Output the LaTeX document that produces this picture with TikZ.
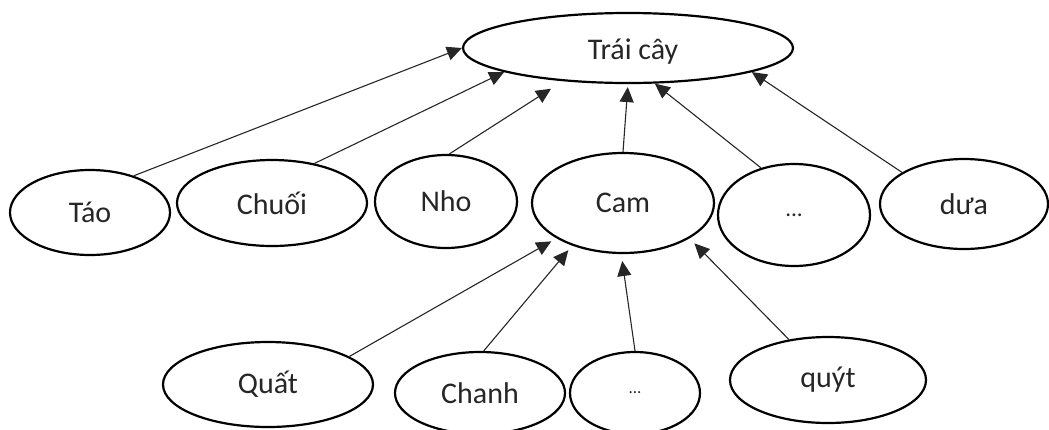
\documentclass[tikz,border=0pt]{standalone}
\usepackage{fontspec}
\setmainfont{Carlito}
\usetikzlibrary{arrows.meta,shapes.geometric}

\tikzset{
  fruit/.style={ellipse, draw=black, line width=2.2pt, inner sep=0pt,
    text=black!85, font=\fontsize{30}{32}\selectfont},
  tip/.tip={Triangle[length=15pt,width=14pt]},
  link/.style={draw=black!85, line width=1.1pt, -tip},
}

\begin{document}
\begin{tikzpicture}[x=1pt,y=-1pt]
  \useasboundingbox (0,0) rectangle (1049,429);

  % root category
  \node[fruit, minimum width=330pt, minimum height=70pt,
        text height=22pt, text depth=0pt] (trai) at (628,48) {\hspace*{10pt}Trái cây};

  % second level
  \node[fruit, minimum width=160pt, minimum height=85pt]  (tao)   at (90,212.5)  {Táo};
  \node[fruit, minimum width=190pt, minimum height=86pt]  (chuoi) at (272,203)   {Chuối};
  \node[fruit, minimum width=142pt, minimum height=93pt]  (nho)   at (446,201.5) {Nho};
  \node[fruit, minimum width=182pt, minimum height=100pt] (cam)   at (623,203)   {Cam};
  \node[fruit, minimum width=152pt, minimum height=102pt,
        font=\fontsize{23}{25}\selectfont]                (dotsa) at (794,215)   {...};
  \node[fruit, minimum width=168pt, minimum height=90pt]  (dua)   at (964,204)   {dưa};

  % third level (kinds of Cam)
  \node[fruit, minimum width=210pt, minimum height=85pt]  (quat)  at (268,384.5) {Quất};
  \node[fruit, minimum width=170pt, minimum height=82pt]  (chanh) at (480,393)   {Chanh};
  \node[fruit, minimum width=130pt, minimum height=82pt,
        font=\fontsize{17}{19}\selectfont]                (dotsb) at (635,393)   {...};
  \node[fruit, minimum width=196pt, minimum height=86pt]  (quyt)  at (828,380)   {quýt};

  % links to the root
  \draw[link] (tao.40) -- (trai.180);
  \draw[link] (chuoi.43) -- (trai.191);
  \draw[link, shorten >=14pt] (nho.86) -- (trai.207);
  \draw[link, shorten >=3pt] (cam.90) -- (trai.270);
  \draw[link] (dotsa.125) -- (trai.307);
  \draw[link] (dua.153) -- (trai.349);

  % links to Cam
  \draw[link, shorten >=6pt] (quat.19) -- (cam.208);
  \draw[link, shorten >=6pt] (chanh.85) -- (cam.220);
  \draw[link, shorten >=7pt] (dotsb.90) -- (cam.268);
  \draw[link, shorten >=7pt] (quyt.134) -- (cam.332);
\end{tikzpicture}
\end{document}
